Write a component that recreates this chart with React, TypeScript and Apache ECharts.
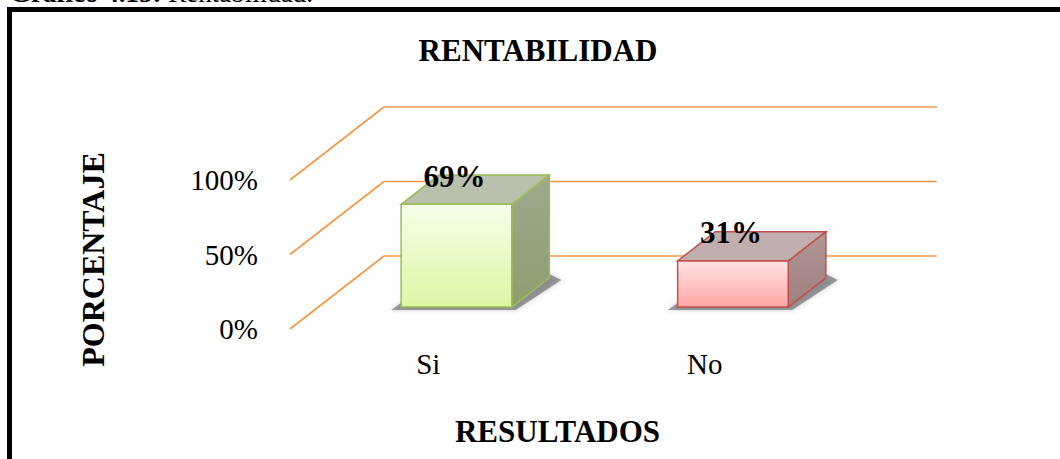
import React, { useEffect, useRef } from "react";
import * as echarts from "echarts";

const categories = ["Si", "No"];
const values = [69, 31];
const valueLabels = ["69%", "31%"];
const yTicks = [0, 50, 100];

const SERIF = "'Liberation Serif', 'Times New Roman', serif";
const ORANGE = "#F79646";
const DX = 94;
const DY = -73;
const F0 = 0.3;
const F1 = 0.7;

const palette = [
  {
    frontTop: "#F6FFEA",
    frontBottom: "#DAF8A4",
    border: "#9BBB59",
    top: "#B9C1AD",
    sideTop: "#9EA98F",
    sideBottom: "#8B9E6E",
  },
  {
    frontTop: "#FFE4E4",
    frontBottom: "#FFA6A6",
    border: "#C0504D",
    top: "#C1AEAE",
    sideTop: "#B09696",
    sideBottom: "#A07F7F",
  },
];

export default function App() {
  const ref = useRef<HTMLDivElement>(null);
  useEffect(() => {
    if (!ref.current) return;
    const chart = echarts.init(ref.current, undefined, { renderer: "svg" });
    const option: any = {
      animation: false,
      backgroundColor: "#fff",
      grid: { left: 290, top: 180, width: 553, height: 149, containLabel: false },
      xAxis: {
        type: "category",
        data: categories,
        axisLine: { show: false },
        axisTick: { show: false },
        axisLabel: { fontSize: 29, fontFamily: SERIF, color: "#000", margin: 20 },
        name: "RESULTADOS",
        nameLocation: "middle",
        nameGap: 87,
        nameTextStyle: {
          fontSize: 31,
          fontFamily: SERIF,
          fontWeight: "bold",
          color: "#000",
          padding: [0, 18, 0, 0],
        },
      },
      yAxis: {
        type: "value",
        min: 0,
        max: 100,
        interval: 50,
        axisLine: { show: false },
        axisTick: { show: false },
        splitLine: { show: false },
        axisLabel: {
          fontSize: 29,
          fontFamily: SERIF,
          color: "#000",
          margin: 32,
          formatter: "{value}%",
        },
        name: "PORCENTAJE",
        nameLocation: "middle",
        nameRotate: 90,
        nameGap: 181,
        nameTextStyle: {
          fontSize: 32,
          fontFamily: SERIF,
          fontWeight: "bold",
          color: "#000",
          padding: [0, 10, 0, 0],
        },
      },
      graphic: [
        {
          type: "rect",
          shape: { x: 9.5, y: 9.5, width: 1200, height: 600 },
          style: { fill: "none", stroke: "#000", lineWidth: 5 },
          silent: true,
        },
        {
          type: "text",
          x: 10,
          y: -7,
          style: {
            text: "{b|Gráfico 4.15:} {r|Rentabilidad.}",
            verticalAlign: "middle",
            fill: "#000",
            rich: {
              b: { fontSize: 27, fontFamily: SERIF, fontWeight: "bold", fill: "#000" },
              r: { fontSize: 27, fontFamily: SERIF, fill: "#000" },
            },
            fontSize: 27,
            fontFamily: SERIF,
          },
        },
        {
          type: "text",
          x: 538,
          y: 50,
          style: {
            text: "RENTABILIDAD",
            align: "center",
            verticalAlign: "middle",
            fontSize: 31,
            fontFamily: SERIF,
            fontWeight: "bold",
            fill: "#000",
          },
        },
      ],
      series: [
        {
          type: "custom",
          name: "grid",
          z: 2,
          silent: true,
          data: yTicks.map((v) => [0, v]),
          renderItem: (params: any, api: any) => {
            const y = api.coord([0, api.value(1)])[1];
            const cs = params.coordSys;
            const x0 = cs.x;
            const x1 = cs.x + cs.width;
            const st = { stroke: ORANGE, lineWidth: 1.6 };
            return {
              type: "group",
              children: [
                { type: "line", shape: { x1: x0, y1: y, x2: x0 + DX, y2: y + DY }, style: st },
                { type: "line", shape: { x1: x0 + DX, y1: y + DY, x2: x1 + DX, y2: y + DY }, style: st },
              ],
            };
          },
        },
        {
          type: "custom",
          name: "bars",
          z: 3,
          silent: true,
          data: values.map((v, i) => [i, v]),
          renderItem: (params: any, api: any) => {
            const idx = params.dataIndex;
            const c = palette[idx];
            const top = api.coord([api.value(0), api.value(1)]);
            const base = api.coord([api.value(0), 0]);
            const bandW = api.size([1, 0])[0];
            const w = bandW * 0.4;
            const cx = top[0] + F0 * DX;
            const fl = cx - w / 2;
            const fr = cx + w / 2;
            const ft = top[1] + F0 * DY;
            const fb = base[1] + F0 * DY;
            const bx = (F1 - F0) * DX;
            const by = (F1 - F0) * DY;
            return {
              type: "group",
              children: [
                {
                  type: "polygon",
                  shape: {
                    points: [
                      [fl - 10, fb + 3],
                      [fr + 4, fb + 3],
                      [fr + bx + 12, fb + by + 2],
                      [fr + bx, fb + by - 4],
                      [fl, fb - 4],
                    ],
                  },
                  style: { fill: "rgba(90,90,90,0.55)", shadowBlur: 5, shadowColor: "rgba(90,90,90,0.6)" },
                },
                {
                  type: "polygon",
                  shape: {
                    points: [
                      [fr, ft],
                      [fr + bx, ft + by],
                      [fr + bx, fb + by],
                      [fr, fb],
                    ],
                  },
                  style: {
                    fill: new echarts.graphic.LinearGradient(0, 0, 0, 1, [
                      { offset: 0, color: c.sideTop },
                      { offset: 1, color: c.sideBottom },
                    ]),
                    stroke: c.border,
                    lineWidth: 1.5,
                  },
                },
                {
                  type: "polygon",
                  shape: {
                    points: [
                      [fl, ft],
                      [fr, ft],
                      [fr + bx, ft + by],
                      [fl + bx, ft + by],
                    ],
                  },
                  style: { fill: c.top, stroke: c.border, lineWidth: 1.5 },
                },
                {
                  type: "rect",
                  shape: { x: fl, y: ft, width: fr - fl, height: fb - ft },
                  style: {
                    fill: new echarts.graphic.LinearGradient(0, 0, 0, 1, [
                      { offset: 0, color: c.frontTop },
                      { offset: 1, color: c.frontBottom },
                    ]),
                    stroke: c.border,
                    lineWidth: 1.5,
                  },
                },
                {
                  type: "text",
                  style: {
                    text: valueLabels[idx],
                    x: cx - 2,
                    y: ft - 28,
                    align: "center",
                    verticalAlign: "middle",
                    fontSize: 31,
                    fontFamily: SERIF,
                    fontWeight: "bold",
                    fill: "#000",
                  },
                },
              ],
            };
          },
        },
      ],
    };
    chart.setOption(option);
    return () => chart.dispose();
  }, []);
  return (
    <div
      ref={ref}
      style={{ position: "fixed", left: 0, top: 0, width: 1060, height: 459 }}
    />
  );
}
